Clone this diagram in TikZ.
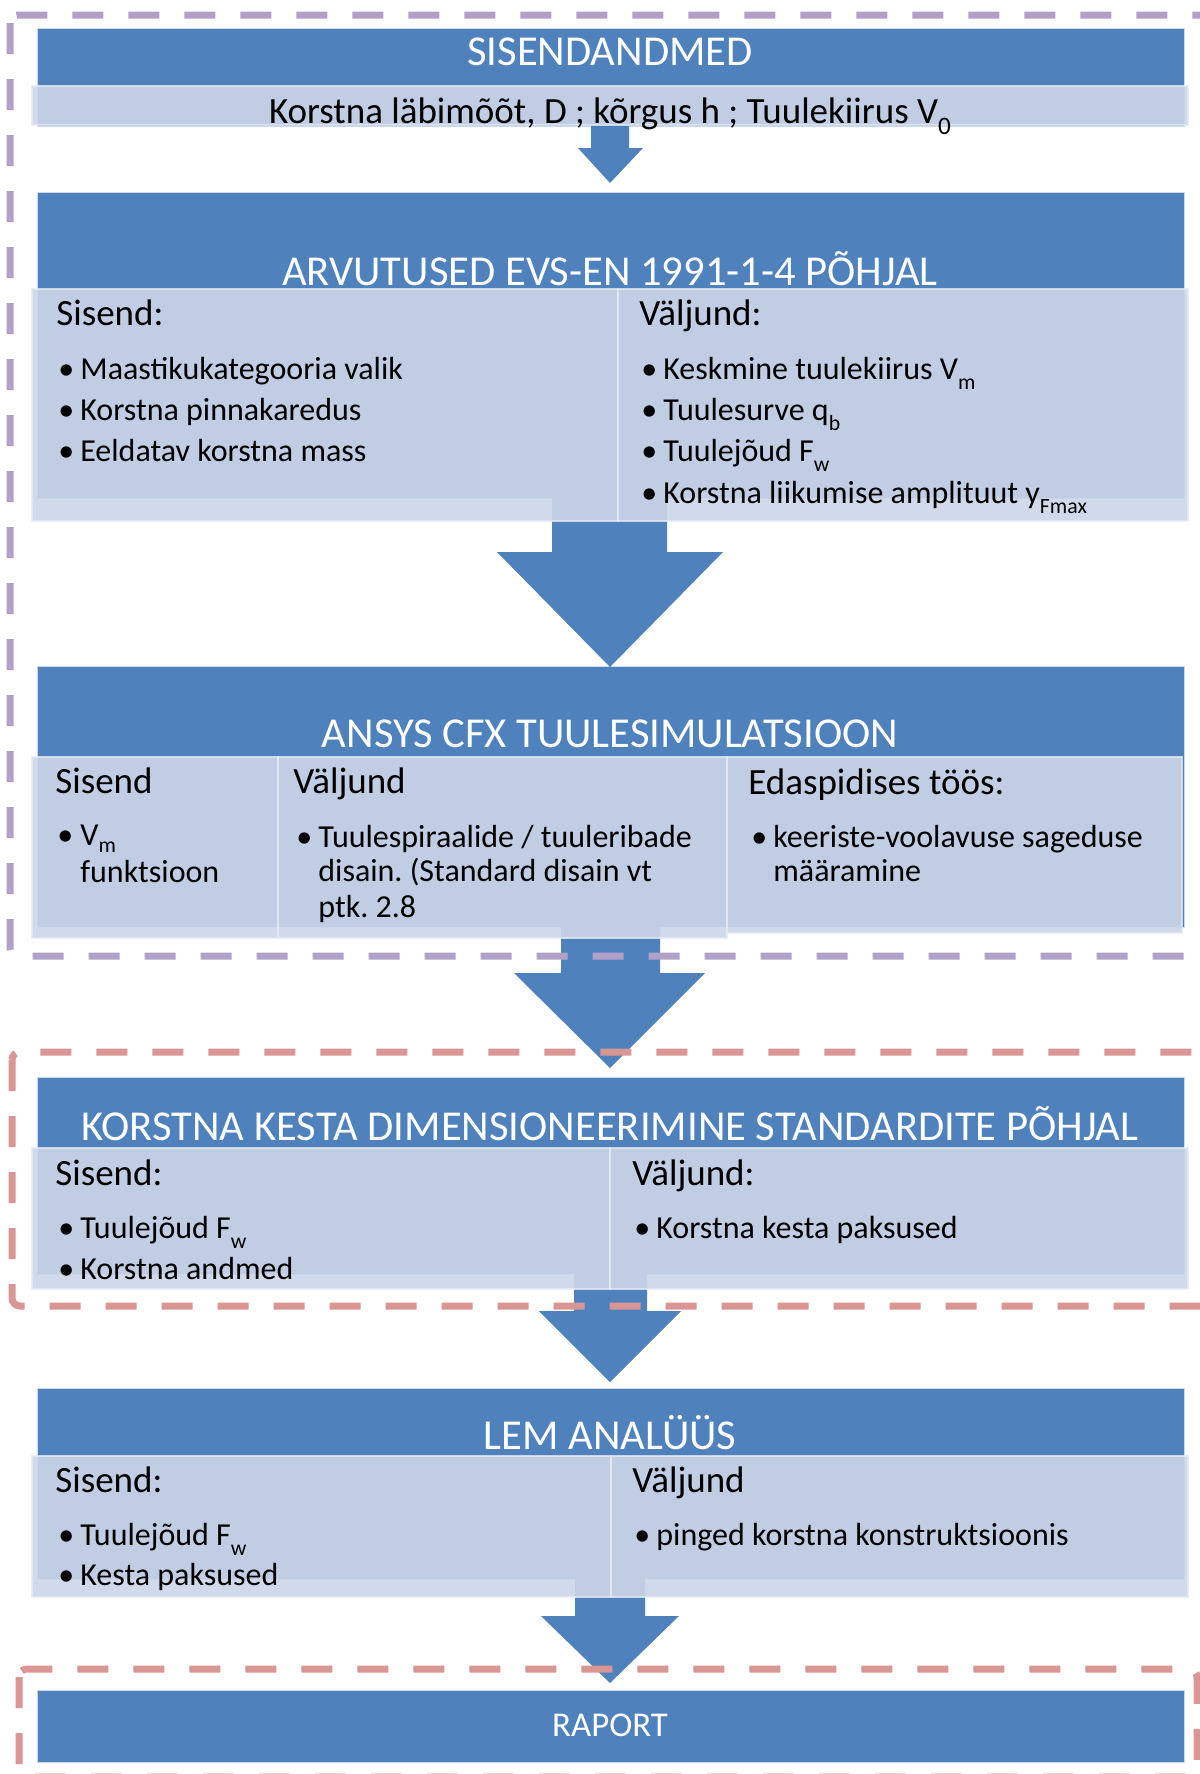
\documentclass[tikz,border=0pt]{standalone}
\usepackage{fontspec}
\usepackage{graphicx}
\setmainfont{Carlito}
\frenchspacing
\definecolor{hdr}{RGB}{79,129,189}
\definecolor{pnl}{RGB}{205,214,232}
\definecolor{purp}{RGB}{178,161,199}
\definecolor{redd}{RGB}{217,150,148}
\newcommand{\sbs}[1]{\raisebox{-0.32em}{\scalebox{0.68}{#1}}}
\newcommand{\sbsh}[1]{\raisebox{-0.22em}{\scalebox{0.68}{#1}}}
\begin{document}
\begin{tikzpicture}[x=0.5pt,y=-0.5pt,
  hdrbox/.style={fill=hdr, draw=white!70!hdr, line width=0.5pt},
  panel/.style={fill=pnl, fill opacity=0.9, draw=white!50!pnl, draw opacity=0.8, line width=1pt},
  arr/.style={fill=hdr},
  ttl/.style={font=\fontsize{21.3}{25}\selectfont, text=white, inner sep=0, anchor=base},
  hd/.style={font=\fontsize{18.5}{22}\selectfont, inner sep=0, anchor=base west},
  itm/.style={font=\fontsize{16}{18}\selectfont, inner sep=0, anchor=base west},
  grp/.style={dash pattern=on 15.5pt off 12.5pt, line width=3.5pt, rounded corners=4pt},
]
\useasboundingbox (0,0) rectangle (1200,1774);
\fill[white] (0,0) rectangle (1200,1774);

% ---------- blue header boxes ----------
\path[hdrbox] (37,28) rectangle (1184,126);
\path[hdrbox] (37,192) rectangle (1184,498);
\path[hdrbox] (37,666) rectangle (1184,927);
\path[hdrbox] (37,1077) rectangle (1184,1274);
\path[hdrbox] (37,1388) rectangle (1184,1579);
\path[hdrbox] (37,1690) rectangle (1184,1762);

% ---------- block arrows ----------
\fill[arr] (591,120) -- (629,120) -- (629,148) -- (643,148) -- (610,183) -- (578,148) -- (591,148) -- cycle;
\fill[arr] (552,480) -- (667,480) -- (667,552) -- (723,552) -- (610,667) -- (497,552) -- (552,552) -- cycle;
\fill[arr] (561,900) -- (660,900) -- (660,973) -- (705,973) -- (610,1068) -- (514,973) -- (561,973) -- cycle;
\fill[arr] (574,1260) -- (647,1260) -- (647,1311) -- (681,1311) -- (610,1382) -- (539,1311) -- (574,1311) -- cycle;
\fill[arr] (575,1570) -- (645,1570) -- (645,1616) -- (679,1616) -- (610,1683) -- (541,1616) -- (575,1616) -- cycle;

% ---------- light panels ----------
\path[panel] (32,86) rectangle (1188,125);
\path[panel] (32,289) rectangle (618,521);
\path[panel] (618,289) rectangle (1188,521);
\path[panel] (32,757) rectangle (278,938);
\path[panel] (278,757) rectangle (727,938);
\path[panel] (727,757) rectangle (1182,933);
\path[panel] (32,1148) rectangle (610,1289);
\path[panel] (610,1148) rectangle (1188,1289);
\path[panel] (32,1456) rectangle (611,1597);
\path[panel] (611,1456) rectangle (1188,1597);

% ---------- titles ----------
\node[ttl] (t1) at (610,65) {SISENDANDMED};
\node[itm, anchor=base, font=\fontsize{18.5}{22}\selectfont] (t1b) at (610,123) {Korstna läbimõõt, D ; kõrgus h ; Tuulekiirus V\sbs{0}};
\node[ttl] (t2) at (610,285) {ARVUTUSED EVS-EN 1991-1-4 PÕHJAL};
\node[ttl] (t3) at (610,747) {ANSYS CFX TUULESIMULATSIOON};
\node[ttl] (t4) at (610,1140) {KORSTNA KESTA DIMENSIONEERIMINE STANDARDITE PÕHJAL};
\node[ttl] (t5) at (610,1449) {LEM ANALÜÜS};
\node[ttl, font=\fontsize{17.4}{20}\selectfont] (t6) at (610,1736) {RAPORT};

% ---------- box 2 ----------
\node[hd] (s2) at (56,325) {Sisend:};
\node[itm] (s2b1) at (58,379) {\textbullet};
\node[itm] (s2i1) at (80,379) {Maastikukategooria valik};
\node[itm] (s2b2) at (58,420) {\textbullet};
\node[itm] (s2i2) at (80,420) {Korstna pinnakaredus};
\node[itm] (s2b3) at (58,461) {\textbullet};
\node[itm] (s2i3) at (80,461) {Eeldatav korstna mass};
\node[hd] (v2) at (639,325) {Väljund:};
\node[itm] (v2b1) at (641,379) {\textbullet};
\node[itm] (v2i1) at (663,379) {Keskmine tuulekiirus V\sbs{m}};
\node[itm] (v2b2) at (641,420) {\textbullet};
\node[itm] (v2i2) at (663,420) {Tuulesurve q\sbs{b}};
\node[itm] (v2b3) at (641,461) {\textbullet};
\node[itm] (v2i3) at (663,461) {Tuulejõud F\sbs{w}};
\node[itm] (v2b4) at (641,503) {\textbullet};
\node[itm] (v2i4) at (663,503) {Korstna liikumise amplituut y\sbs{Fmax}};

% ---------- box 3 ----------
\node[hd] (s3) at (55,793) {Sisend};
\node[itm] (s3b1) at (57,845) {\textbullet};
\node[itm] (s3i1) at (80,845) {V\sbsh{m}};
\node[itm] (s3i1b) at (80,882) {funktsioon};
\node[hd] (v3) at (293,793) {Väljund};
\node[itm] (v3b1) at (296,847) {\textbullet};
\node[itm] (v3i1) at (318,847) {Tuulespiraalide / tuuleribade};
\node[itm] (v3i1b) at (318,881) {disain. (Standard disain vt};
\node[itm] (v3i1c) at (318,917) {ptk. 2.8};
\node[hd] (e3) at (748,794) {Edaspidises töös:};
\node[itm] (e3b1) at (751,847) {\textbullet};
\node[itm] (e3i1) at (773,847) {keeriste-voolavuse sageduse};
\node[itm] (e3i1b) at (773,881) {määramine};

% ---------- box 4 ----------
\node[hd] (s4) at (55,1185) {Sisend:};
\node[itm] (s4b1) at (58,1238) {\textbullet};
\node[itm] (s4i1) at (80,1238) {Tuulejõud F\sbs{w}};
\node[itm] (s4b2) at (58,1279) {\textbullet};
\node[itm] (s4i2) at (80,1279) {Korstna andmed};
\node[hd] (v4) at (632,1185) {Väljund:};
\node[itm] (v4b1) at (634,1238) {\textbullet};
\node[itm] (v4i1) at (656,1238) {Korstna kesta paksused};

% ---------- box 5 ----------
\node[hd] (s5) at (55,1492) {Sisend:};
\node[itm] (s5b1) at (58,1545) {\textbullet};
\node[itm] (s5i1) at (80,1545) {Tuulejõud F\sbs{w}};
\node[itm] (s5b2) at (58,1585) {\textbullet};
\node[itm] (s5i2) at (80,1585) {Kesta paksused};
\node[hd] (v5) at (632,1492) {Väljund};
\node[itm] (v5b1) at (634,1545) {\textbullet};
\node[itm] (v5i1) at (656,1545) {pinged korstna konstruktsioonis};

% ---------- dashed group frames ----------
\draw[grp, purp] (10,15) rectangle (1225,956);
\draw[grp, redd] (12,1052) rectangle (1225,1306);
\draw[grp, redd] (19,1669) rectangle (1197,1777);
\end{tikzpicture}
\end{document}
